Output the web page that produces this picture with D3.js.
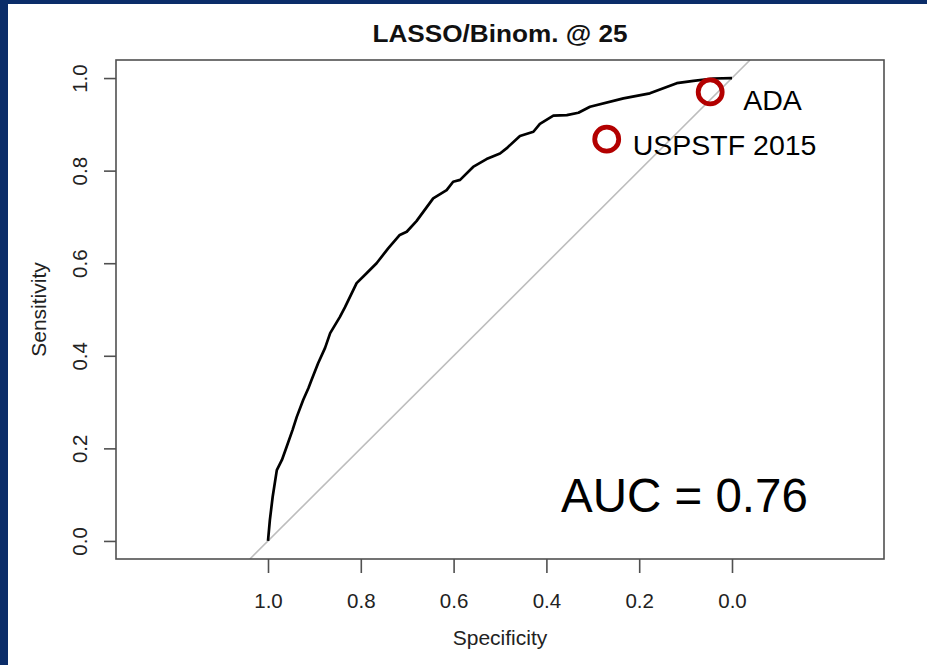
<!DOCTYPE html>
<html>
<head>
<meta charset="utf-8">
<script src="https://cdn.jsdelivr.net/npm/d3@7"></script>
<style>
  html, body { margin: 0; padding: 0; background: #ffffff; }
  svg { display: block; font-family: "Liberation Sans", Arial, Helvetica, sans-serif; }
</style>
</head>
<body>
<svg id="chart" width="927" height="665"></svg>
<script>
// ROC curve of the LASSO / binomial model (specificity, sensitivity pairs)
const specificity = [1.000, 0.996, 0.990, 0.981, 0.970, 0.960, 0.947, 0.938, 0.924, 0.913,
  0.906, 0.892, 0.877, 0.866, 0.845, 0.834, 0.809, 0.787, 0.766, 0.741,
  0.716, 0.701, 0.680, 0.644, 0.615, 0.601, 0.586, 0.558, 0.529, 0.500,
  0.486, 0.457, 0.428, 0.414, 0.385, 0.356, 0.331, 0.306, 0.234, 0.177,
  0.119, 0.083, 0.040, 0.000];
const sensitivity = [0.000, 0.045, 0.095, 0.153, 0.175, 0.203, 0.240, 0.268, 0.305, 0.330,
  0.348, 0.384, 0.417, 0.449, 0.484, 0.505, 0.557, 0.579, 0.600, 0.632,
  0.661, 0.668, 0.691, 0.740, 0.758, 0.776, 0.780, 0.808, 0.825, 0.837,
  0.848, 0.875, 0.884, 0.901, 0.919, 0.920, 0.925, 0.938, 0.956, 0.967,
  0.989, 0.994, 0.999, 1.000];

// Guideline operating points
const guideNames = ["ADA", "USPSTF 2015"];
const guideSpecificity = [0.047, 0.270];
const guideSensitivity = [0.970, 0.868];

const tickValues = [1.0, 0.8, 0.6, 0.4, 0.2, 0.0];
const titleText = "LASSO/Binom. @ 25";
const aucText = "AUC = 0.76";

const svg = d3.select("#chart");
const W = 927, H = 665;

// dark frame
svg.append("rect").attr("width", W).attr("height", H).attr("fill", "#0b2d69");
svg.append("rect").attr("x", 8).attr("y", 4).attr("width", W - 8).attr("height", H - 4).attr("fill", "#ffffff");

const box = { left: 116, right: 884, top: 60, bottom: 559 };
const xlim = [1.3276, -0.3276];
const ylim = [-0.039, 1.039];

const x = d3.scaleLinear().domain(xlim).range([box.left, box.right]);
const y = d3.scaleLinear().domain(ylim).range([box.bottom, box.top]);

const axisColor = "#505050";

// chance diagonal, clipped to the plotting region
svg.append("clipPath").attr("id", "plotclip")
  .append("rect").attr("x", box.left).attr("y", box.top)
  .attr("width", box.right - box.left).attr("height", box.bottom - box.top);

svg.append("line")
  .attr("clip-path", "url(#plotclip)")
  .attr("x1", x(1 - ylim[0])).attr("y1", y(ylim[0]))
  .attr("x2", x(1 - ylim[1])).attr("y2", y(ylim[1]))
  .attr("stroke", "#bdbdbd").attr("stroke-width", 1.6);

// ROC curve
const rocPoints = specificity.map((s, i) => [s, sensitivity[i]]);
svg.append("path")
  .datum(rocPoints)
  .attr("fill", "none")
  .attr("stroke", "#000")
  .attr("stroke-width", 2.7)
  .attr("stroke-linejoin", "round")
  .attr("d", d3.line().x(d => x(d[0])).y(d => y(d[1])));

// plot box
svg.append("rect")
  .attr("x", box.left).attr("y", box.top)
  .attr("width", box.right - box.left).attr("height", box.bottom - box.top)
  .attr("fill", "none").attr("stroke", axisColor).attr("stroke-width", 1.6);

// x axis
const gx = svg.append("g")
  .attr("transform", `translate(0,${box.bottom})`)
  .call(d3.axisBottom(x).tickValues(tickValues).tickFormat(d3.format(".1f")).tickSize(14).tickSizeOuter(0));
gx.select(".domain").remove();
gx.selectAll(".tick line").attr("stroke", axisColor).attr("stroke-width", 1.6);
gx.selectAll(".tick text")
  .attr("y", 49).attr("dy", 0)
  .attr("font-size", 20.5).attr("fill", "#222")
  .attr("font-family", "Liberation Sans, Arial, sans-serif");

// y axis
const gy = svg.append("g")
  .attr("transform", `translate(${box.left},0)`)
  .call(d3.axisLeft(y).tickValues(tickValues).tickFormat(d3.format(".1f")).tickSize(12).tickSizeOuter(0));
gy.select(".domain").remove();
gy.selectAll(".tick line").attr("stroke", axisColor).attr("stroke-width", 1.6);
gy.selectAll(".tick text")
  .attr("x", 0).attr("y", 0).attr("dy", 0)
  .attr("text-anchor", "middle")
  .attr("transform", "translate(-29,0) rotate(-90)")
  .attr("font-size", 20.5).attr("fill", "#222")
  .attr("font-family", "Liberation Sans, Arial, sans-serif");

// axis titles
svg.append("text")
  .attr("x", (box.left + box.right) / 2).attr("y", 645)
  .attr("text-anchor", "middle").attr("font-size", 21).attr("fill", "#222")
  .text("Specificity");
svg.append("text")
  .attr("transform", `translate(46,${(box.top + box.bottom) / 2}) rotate(-90)`)
  .attr("text-anchor", "middle").attr("font-size", 21).attr("fill", "#222")
  .text("Sensitivity");

// title
svg.append("text")
  .attr("x", (box.left + box.right) / 2).attr("y", 42)
  .attr("text-anchor", "middle").attr("font-size", 24.5).attr("font-weight", "bold").attr("fill", "#111")
  .attr("textLength", 255).attr("lengthAdjust", "spacingAndGlyphs")
  .text(titleText);

// guideline markers and labels
const guides = guideNames.map((n, i) => ({ name: n, spec: guideSpecificity[i], sens: guideSensitivity[i] }));
svg.selectAll("circle.guide")
  .data(guides).enter().append("circle")
  .attr("class", "guide")
  .attr("cx", d => x(d.spec)).attr("cy", d => y(d.sens))
  .attr("r", 12).attr("fill", "none")
  .attr("stroke", "#b30000").attr("stroke-width", 4.8);

const labelOffsets = [{ dx: 33, dy: 18 }, { dx: 26, dy: 16 }];
svg.selectAll("text.guide")
  .data(guides).enter().append("text")
  .attr("class", "guide")
  .attr("x", (d, i) => x(d.spec) + labelOffsets[i].dx)
  .attr("y", (d, i) => y(d.sens) + labelOffsets[i].dy)
  .attr("font-size", 28.5).attr("fill", "#000")
  .text(d => d.name);

// AUC annotation
svg.append("text")
  .attr("x", 561).attr("y", 512)
  .attr("font-size", 47.5).attr("fill", "#000")
  .text(aucText);
</script>
</body>
</html>
